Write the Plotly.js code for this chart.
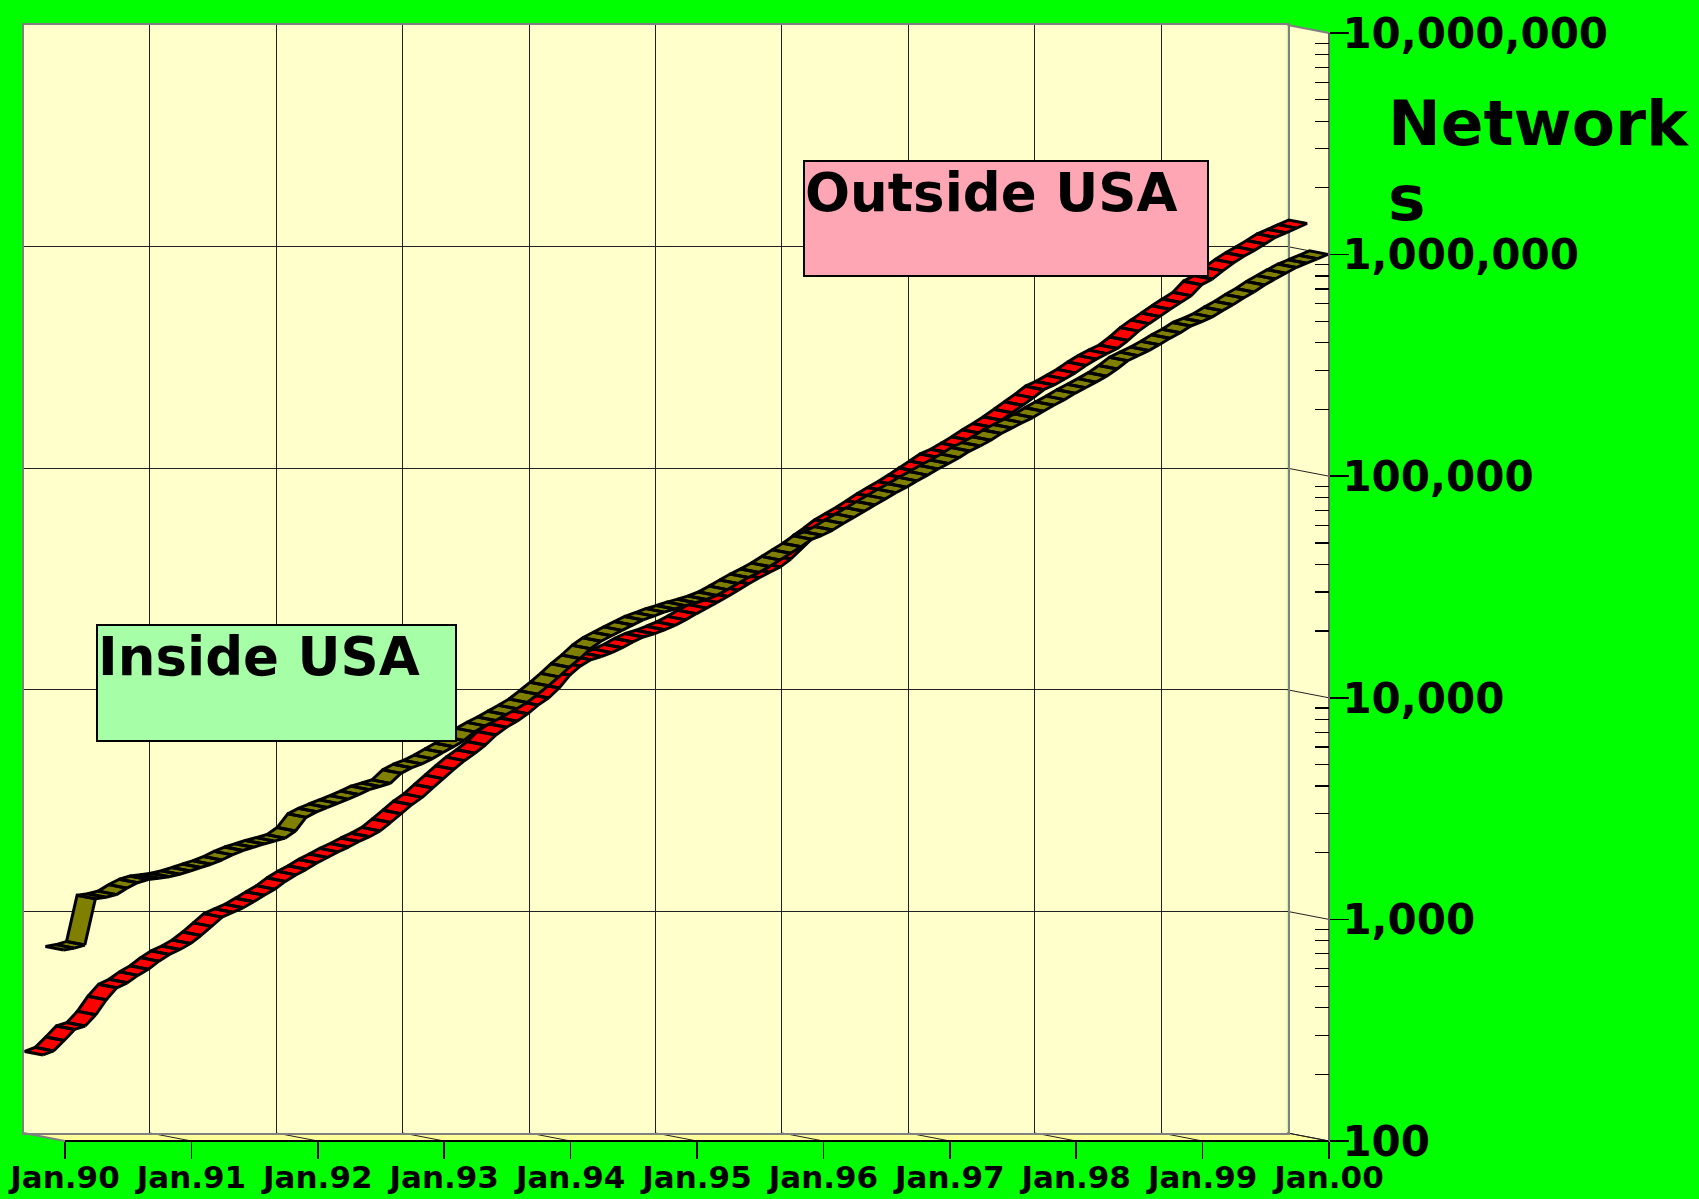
<!DOCTYPE html>
<html><head><meta charset="utf-8">
<script src="https://cdn.plot.ly/plotly-3.0.1.min.js"></script>
<style>html,body{margin:0;padding:0;background:#00FF00;}#chart{width:1699px;height:1199px;}</style>
</head><body><div id="chart"></div>
<script>
// ---------- data ----------
const startYear = 1990;           // first monthly point: Jan.90
const seriesNames = ['Inside USA', 'Outside USA'];
const insideUSA = [
  726,740,765,1235,1255,1290,1380,1460,1510,1530,1553,1595,
  1650,1710,1770,1849,1950,2040,2110,2185,2250,2320,2500,2880,
  3050,3190,3330,3480,3650,3840,3970,4100,4550,4820,5020,5300,
  5650,6000,6400,7000,7450,7880,8370,8900,9500,10350,11300,12400,
  13700,15000,16600,17950,19000,20100,21240,22400,23300,24300,25100,26000,
  26800,27700,28900,30700,32700,34800,36700,39000,41800,44800,47900,51800,
  54000,57000,61000,65000,69300,73900,78800,84000,89000,95000,100900,107500,
  113800,121000,129500,136500,145000,155500,164500,174000,183500,196000,208500,221000,
  236000,250000,265000,282000,304000,331000,349000,368000,391000,418000,443000,475000,
  496000,521000,557000,592000,635000,676000,727000,774000,822000,872000,912000,955000,
  1000000];
const outsideUSA = [
  234,244,272,305,316,355,415,470,495,535,570,620,
  665,700,745,810,890,980,1030,1080,1150,1230,1310,1420,
  1520,1610,1720,1820,1930,2030,2150,2260,2400,2620,2870,3150,
  3400,3750,4130,4550,4980,5380,5860,6500,7050,7500,8100,8870,
  9550,10600,12100,13300,14200,14700,15300,16100,17100,18000,18600,19400,
  20300,21500,22900,24300,25800,27400,29300,31300,33300,35300,37300,40500,
  45000,50000,54000,58700,62600,66600,71500,76900,82000,87300,93500,100500,
  108000,116300,122000,130000,139000,149500,159500,171000,185000,200000,216000,235000,
  247000,263000,280000,302000,323000,342000,360600,392000,432000,467000,503000,542000,
  582000,624000,700000,742000,808000,876000,940000,1000000,1068000,1145000,1200000,1260000,
  1322000];
const tickYears  = [1990,1991,1992,1993,1994,1995,1996,1997,1998,1999,2000];
const tickLabels = ['Jan.90','Jan.91','Jan.92','Jan.93','Jan.94','Jan.95','Jan.96','Jan.97','Jan.98','Jan.99','Jan.00'];
const yTickValues = [100,1000,10000,100000,1000000,10000000];
const yTickLabels = ['100','1,000','10,000','100,000','1,000,000','10,000,000'];
const axisTitle = ['Network', 's'];

// ---------- geometry (pixels) ----------
const W = 1699, H = 1199;
const FX0 = 65, FX1 = 1329;      // front plane: Jan.90 .. Jan.00
const FY2 = 1141, FY7 = 33;      // front plane: 100 .. 10,000,000
const DX = -41.5, DY = -8;       // full depth vector (front -> back wall)
const PXYR = (FX1 - FX0) / 10;
const PXDEC = (FY2 - FY7) / 5;
const TOP = FY7 + DY;            // top of back wall
const fx = px => px / W;
const fy = py => 1 - py / H;

const months = insideUSA.map((_, i) => startYear + i / 12);

function ribbon(values, dFront, dBack, color, name) {
  const ox = d => DX * d / PXYR;
  const oy = d => Math.pow(10, -DY * d / PXDEC);
  const xs = [], ys = [];
  for (let i = 0; i < values.length - 1; i++) {
    const a = months[i], b = months[i + 1], va = values[i], vb = values[i + 1];
    xs.push(a + ox(dFront), b + ox(dFront), b + ox(dBack), a + ox(dBack), a + ox(dFront), null);
    ys.push(va * oy(dFront), vb * oy(dFront), vb * oy(dBack), va * oy(dBack), va * oy(dFront), null);
  }
  return {type: 'scatter', mode: 'lines', x: xs, y: ys, xaxis: 'x2', yaxis: 'y2',
    fill: 'toself', fillcolor: color, line: {color: '#000', width: 3},
    hoverinfo: 'skip', name: name, showlegend: false};
}

const traces = [
  // invisible trace so the back-wall subplot exists
  {type: 'scatter', mode: 'lines', x: [1990, 2000], y: [100, 100], xaxis: 'x', yaxis: 'y',
   line: {color: 'rgba(0,0,0,0)', width: 0}, hoverinfo: 'skip', showlegend: false},
  ribbon(outsideUSA, 0.53, 0.97, '#FF0000', seriesNames[1]),
  ribbon(insideUSA, 0.03, 0.47, '#808000', seriesNames[0])
];

const minorTicks = [];
yTickValues.slice(0, -1).forEach(v => { for (let m = 2; m <= 9; m++) minorTicks.push(v * m); });

// ---------- decoration shapes (walls) ----------
const P = (x, y) => `${fx(x)},${fy(y)}`;
const shapes = [];
// back wall
shapes.push({type: 'path', xref: 'paper', yref: 'paper', layer: 'below',
  path: `M${P(FX0 + DX, TOP)} L${P(FX1 + DX, TOP)} L${P(FX1 + DX, FY2 + DY)} L${P(FX0 + DX, FY2 + DY)} Z`,
  fillcolor: '#FFFFCC', line: {width: 0}});
// side wall
shapes.push({type: 'path', xref: 'paper', yref: 'paper', layer: 'below',
  path: `M${P(FX1 + DX, TOP)} L${P(FX1, FY7)} L${P(FX1, FY2)} L${P(FX1 + DX, FY2 + DY)} Z`,
  fillcolor: '#FFFFCC', line: {width: 0}});
// floor
shapes.push({type: 'path', xref: 'paper', yref: 'paper', layer: 'below',
  path: `M${P(FX0 + DX, FY2 + DY)} L${P(FX1 + DX, FY2 + DY)} L${P(FX1, FY2)} L${P(FX0, FY2)} Z`,
  fillcolor: '#FFFF99', line: {width: 0}});
// floor diagonals
tickYears.forEach((yr, i) => {
  const xf = FX0 + i * PXYR;
  shapes.push({type: 'line', xref: 'paper', yref: 'paper', layer: 'below',
    x0: fx(xf + DX), y0: fy(FY2 + DY), x1: fx(xf), y1: fy(FY2),
    line: {color: (i === 0) ? '#808080' : '#222', width: (i === 0) ? 2 : 1}});
});
// side wall diagonals
yTickValues.forEach((v, k) => {
  const yf = FY2 - k * PXDEC;
  shapes.push({type: 'line', xref: 'paper', yref: 'paper', layer: 'below',
    x0: fx(FX1 + DX), y0: fy(yf + DY), x1: fx(FX1), y1: fy(yf),
    line: {color: (k === 5) ? '#808080' : '#222', width: (k === 5) ? 2 : 1}});
});
// front axis lines
shapes.push({type: 'line', xref: 'paper', yref: 'paper', layer: 'below',
  x0: fx(FX0), y0: fy(FY2), x1: fx(FX1), y1: fy(FY2), line: {color: '#000', width: 2}});
shapes.push({type: 'line', xref: 'paper', yref: 'paper', layer: 'below',
  x0: fx(FX1), y0: fy(FY7), x1: fx(FX1), y1: fy(FY2), line: {color: '#666', width: 2}});

const boldFont = (size) => ({family: 'DejaVu Sans', size: size, weight: 'bold', color: '#000'});

const layout = {
  width: W, height: H, autosize: false,
  margin: {l: 0, r: 0, t: 0, b: 0, pad: 0},
  paper_bgcolor: '#00FF00', plot_bgcolor: 'rgba(0,0,0,0)',
  showlegend: false,
  // back wall
  xaxis: {domain: [fx(FX0 + DX), fx(FX1 + DX)], range: [1990, 2000], dtick: 1, tick0: 1990,
    showgrid: true, gridcolor: '#222', gridwidth: 1, zeroline: false,
    showline: true, mirror: true, linecolor: '#808080', linewidth: 2,
    showticklabels: false, ticks: '', anchor: 'y', fixedrange: true},
  yaxis: {domain: [fy(FY2 + DY), fy(TOP)], type: 'log', range: [2, 7], dtick: 1,
    showgrid: true, gridcolor: '#222', gridwidth: 1, zeroline: false,
    showline: true, mirror: true, linecolor: '#808080', linewidth: 2,
    showticklabels: false, ticks: '', anchor: 'x', fixedrange: true},
  // front plane (ribbons and visible axes)
  xaxis2: {domain: [fx(FX0 + DX), fx(FX1)], range: [1990 + DX / PXYR, 2000],
    tickmode: 'array', tickvals: tickYears, ticktext: tickLabels,
    ticks: 'outside', ticklen: 17, tickwidth: 1.5, tickcolor: '#000', ticklabelstandoff: -8,
    showgrid: false, zeroline: false, showline: false,
    tickfont: boldFont(31), anchor: 'y2', fixedrange: true},
  yaxis2: {domain: [fy(FY2), fy(TOP)], type: 'log', range: [2, 2 + (FY2 - TOP) / PXDEC],
    side: 'right', anchor: 'x2',
    tickmode: 'array', tickvals: yTickValues, ticktext: yTickLabels,
    ticks: 'outside', ticklen: 19, tickwidth: 1.5, tickcolor: '#000', ticklabelstandoff: -15,
    minor: {tickmode: 'array', tickvals: minorTicks, ticks: 'inside', ticklen: 14, tickwidth: 1.2, tickcolor: '#000', showgrid: false},
    showgrid: false, zeroline: false, showline: false,
    tickfont: boldFont(42), fixedrange: true},
  shapes: shapes,
  annotations: [
    {xref: 'paper', yref: 'paper', x: fx(803), y: fy(160), xanchor: 'left', yanchor: 'top',
     text: seriesNames[1], showarrow: false, width: 402, height: 113,
     align: 'left', valign: 'top', bgcolor: '#FFA6B5', bordercolor: '#000', borderwidth: 2, borderpad: 0,
     font: boldFont(53)},
    {xref: 'paper', yref: 'paper', x: fx(96), y: fy(624), xanchor: 'left', yanchor: 'top',
     text: seriesNames[0], showarrow: false, width: 357, height: 114,
     align: 'left', valign: 'top', bgcolor: '#A6FFA6', bordercolor: '#000', borderwidth: 2, borderpad: 0,
     font: boldFont(53)},
    {xref: 'paper', yref: 'paper', x: fx(1386), y: fy(124), xanchor: 'left', yanchor: 'middle',
     text: axisTitle[0], showarrow: false, font: boldFont(63)},
    {xref: 'paper', yref: 'paper', x: fx(1386), y: fy(198), xanchor: 'left', yanchor: 'middle',
     text: axisTitle[1], showarrow: false, font: boldFont(63)}
  ]
};

Plotly.newPlot('chart', traces, layout, {displayModeBar: false, staticPlot: true});
</script></body></html>
